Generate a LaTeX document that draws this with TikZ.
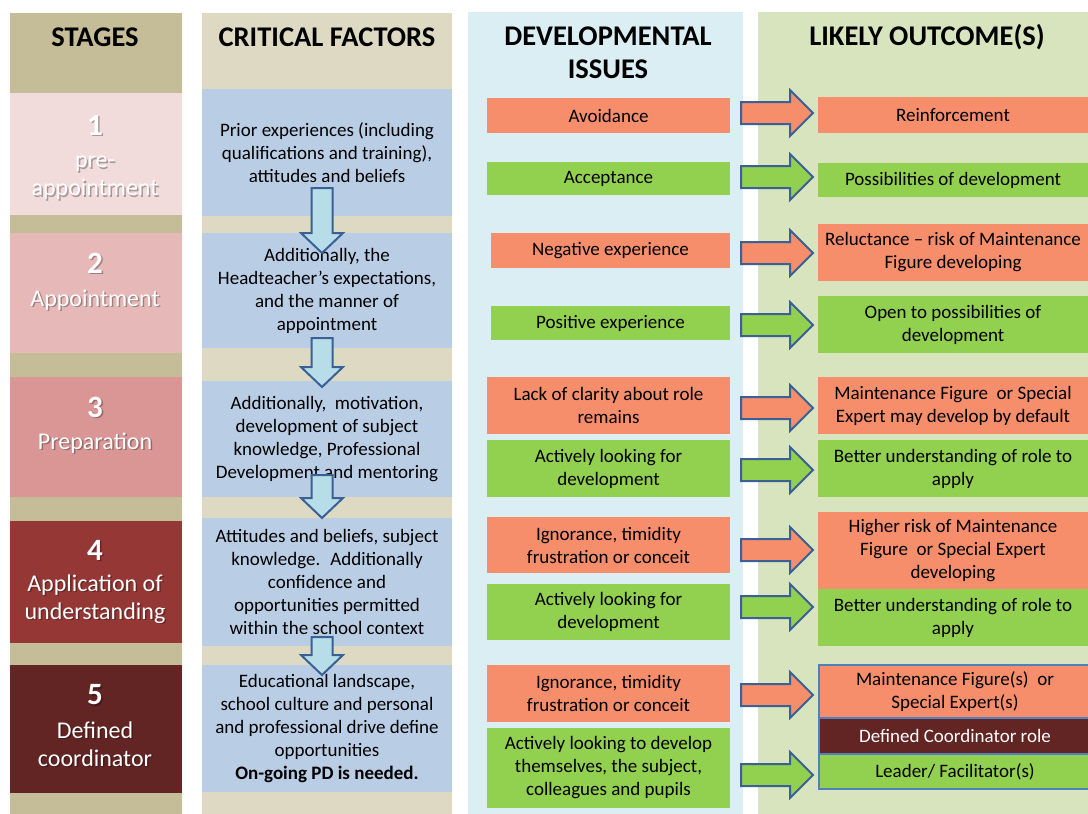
\documentclass[tikz,border=0pt]{standalone}
\usepackage{fontspec}
\setmainfont{Carlito}
\usepackage{tikz}
\usetikzlibrary{calc}

\definecolor{stgbg}{HTML}{C4BD97}
\definecolor{factbg}{HTML}{DDD9C3}
\definecolor{factbox}{HTML}{B9CDE5}
\definecolor{stA}{HTML}{F2DCDB}
\definecolor{stB}{HTML}{E6B9B8}
\definecolor{stC}{HTML}{D99694}
\definecolor{stD}{HTML}{953735}
\definecolor{stE}{HTML}{632523}
\definecolor{issbg}{HTML}{DBEEF3}
\definecolor{outbg}{HTML}{D7E4BD}
\definecolor{oran}{HTML}{F68E6B}
\definecolor{grn}{HTML}{92D050}
\definecolor{arrline}{HTML}{3A6096}
\definecolor{downfill}{HTML}{B7DEE8}
\definecolor{grpline}{HTML}{4F81BD}

\begin{document}
\begin{tikzpicture}[x=1pt,y=-1pt,
    hdr/.style={font=\fontsize{28.5}{33}\selectfont\bfseries, align=center},
    txt/.style={font=\fontsize{19}{23}\selectfont, align=center},
    box/.style={txt, anchor=north west, inner sep=0pt, outer sep=0pt},
    stnum/.style={font=\fontsize{31}{34}\selectfont\bfseries, text=white},
    stlab/.style={font=\fontsize{24}{28}\selectfont, text=white, align=center},
    shade/.style={text=black, opacity=0.3},
    blockarrow/.style={draw=arrline, line width=2pt, line join=miter},
    grp/.style={draw=grpline, line width=1.5pt}]
        \useasboundingbox[fill=white] (0,0) rectangle (1088,814);
        % column backgrounds
        \fill[stgbg] (10,13) rectangle (182,814);
        \fill[factbg] (202,13) rectangle (452,814);
        \fill[issbg] (468,12) rectangle (743,814);
        \fill[outbg] (758,12) rectangle (1088,814);
        % headers
        \node[hdr] (hs) at (95,37) {STAGES};
        \node[hdr] (hc) at (327,37) {CRITICAL FACTORS};
        \node[hdr] (hd) at (608,53) {DEVELOPMENTAL\\ISSUES};
        \node[hdr] (ho) at (927,37) {LIKELY OUTCOME(S)};
        % stages
        \node[box, fill=stA, minimum width=172, minimum height=122] (s1) at (10,93) {};
        \node[box, fill=stB, minimum width=172, minimum height=120] (s2) at (10,233) {};
        \node[box, fill=stC, minimum width=172, minimum height=120] (s3) at (10,377) {};
        \node[box, fill=stD, minimum width=172, minimum height=122] (s4) at (10,521) {};
        \node[box, fill=stE, minimum width=172, minimum height=128] (s5) at (10,665) {};
        \foreach \n/\yy in {1/125, 2/263, 3/407, 4/550, 5/695} {
            \node[stnum, shade] (ns\n) at (96.5,\yy+1.5) {\n};
            \node[stnum] (n\n) at (95,\yy) {\n};
        }
        \foreach \n/\yy/\tt in {1/178/{pre-\\appointment}, 2/300/Appointment,
            3/443/Preparation, 4/599/{Application of\\understanding},
            5/744/{Defined\\coordinator}} {
            \node[stlab, shade] (ls\n) at (96.5,\yy+1.5) {\tt};
            \node[stlab] (l\n) at (95,\yy) {\tt};
        }
        % critical factors
        \node[box, fill=factbox, minimum width=250, minimum height=127] (c1) at (202,89)
            {Prior experiences (including\\qualifications and training),\\attitudes and beliefs};
        \node[box, fill=factbox, minimum width=250, minimum height=115] (c2) at (202,233)
            {Additionally, the\\Headteacher’s expectations,\\and the manner of\\appointment};
        \node[box, fill=factbox, minimum width=250, minimum height=116] (c3) at (202,381)
            {Additionally,~ motivation,\\development of subject\\knowledge, Professional\\Development and mentoring};
        \node[box, fill=factbox, minimum width=250, minimum height=128] (c4) at (202,518)
            {Attitudes and beliefs, subject\\knowledge.~ Additionally\\confidence and\\opportunities permitted\\within the school context};
        \node[box, fill=factbox, minimum width=250, minimum height=127] (c5) at (202,665)
            {Educational landscape,\\school culture and personal\\and professional drive define\\opportunities\\\textbf{On-going PD is needed.}};
        \foreach \a/\b/\dd/\sh in {c1/c2/20/45, c2/c3/6/29, c3/c4/0/23, c4/c5/10/18}
            \draw[blockarrow, fill=downfill] ([shift={(-5,\dd)}]\b.north) -- ++(21,-20) -- ++(-10.5,0)
                -- ++(0,-\sh) -- ++(-21,0) -- ++(0,\sh) -- ++(-10.5,0) -- cycle;
        % developmental issues
        \node[box, fill=oran, minimum width=243, minimum height=35] (i1) at (487,98) {Avoidance};
        \node[box, fill=grn, minimum width=243, minimum height=33] (i2) at (487,162) {Acceptance};
        \node[box, fill=oran, minimum width=239, minimum height=35] (i3) at (491,233) {Negative experience};
        \node[box, fill=grn, minimum width=239, minimum height=34] (i4) at (491,306) {Positive experience};
        \node[box, fill=oran, minimum width=243, minimum height=57] (i5) at (487,377)
            {Lack of clarity about role\\remains};
        \node[box, fill=grn, minimum width=243, minimum height=57] (i6) at (487,440)
            {Actively looking for\\development};
        \node[box, fill=oran, minimum width=243, minimum height=56] (i7) at (487,517)
            {Ignorance, timidity\\frustration or conceit};
        \node[box, fill=grn, minimum width=243, minimum height=56] (i8) at (487,584)
            {Actively looking for\\development};
        \node[box, fill=oran, minimum width=243, minimum height=57] (i9) at (487,665)
            {Ignorance, timidity\\frustration or conceit};
        \node[box, fill=grn, minimum width=243, minimum height=80] (i10) at (487,728)
            {Actively looking to develop\\themselves, the subject,\\colleagues and pupils};
        % likely outcomes
        \node[box, fill=oran, minimum width=270, minimum height=36] (o1) at (818,97) {Reinforcement};
        \node[box, fill=grn, minimum width=270, minimum height=34] (o2) at (818,163) {Possibilities of development};
        \node[box, fill=oran, minimum width=270, minimum height=57] (o3) at (818,224)
            {Reluctance – risk of Maintenance\\Figure developing};
        \node[box, fill=grn, minimum width=270, minimum height=57] (o4) at (818,296)
            {Open to possibilities of\\development};
        \node[box, fill=oran, minimum width=270, minimum height=57] (o5) at (818,377)
            {Maintenance Figure~ or Special\\Expert may develop by default};
        \node[box, fill=grn, minimum width=270, minimum height=57] (o6) at (818,440)
            {Better understanding of role to\\apply};
        \node[box, fill=oran, minimum width=270, minimum height=77] (o7) at (818,512)
            {Higher risk of Maintenance\\Figure~ or Special Expert\\developing};
        \node[box, fill=grn, minimum width=270, minimum height=57] (o8) at (818,589)
            {Better understanding of role to\\apply};
        \node[box, grp, fill=oran, minimum width=272, minimum height=53] (o9) at (819,665)
            {Maintenance Figure(s)~ or\\Special Expert(s)};
        \node[box, grp, fill=stE, text=white, minimum width=272, minimum height=36] (od) at (819,718)
            {Defined Coordinator role};
        \node[box, grp, fill=grn, minimum width=272, minimum height=35] (o10) at (819,754)
            {Leader/ Facilitator(s)};
        % arrows from issues to outcomes
        \foreach \n/\yy/\cc in {1/113/oran, 2/177/grn, 3/253/oran, 4/325/grn, 5/408/oran,
            6/470/grn, 7/550/oran, 8/607/grn, 9/695/oran, 10/775/grn}
            \draw[blockarrow, fill=\cc] (i\n.east |- 0,\yy) ++(11,-11) -- ++(49,0) -- ++(0,-12)
                -- ++(23,23) -- ++(-23,23) -- ++(0,-12) -- ++(-49,0) -- cycle;
\end{tikzpicture}
\end{document}
